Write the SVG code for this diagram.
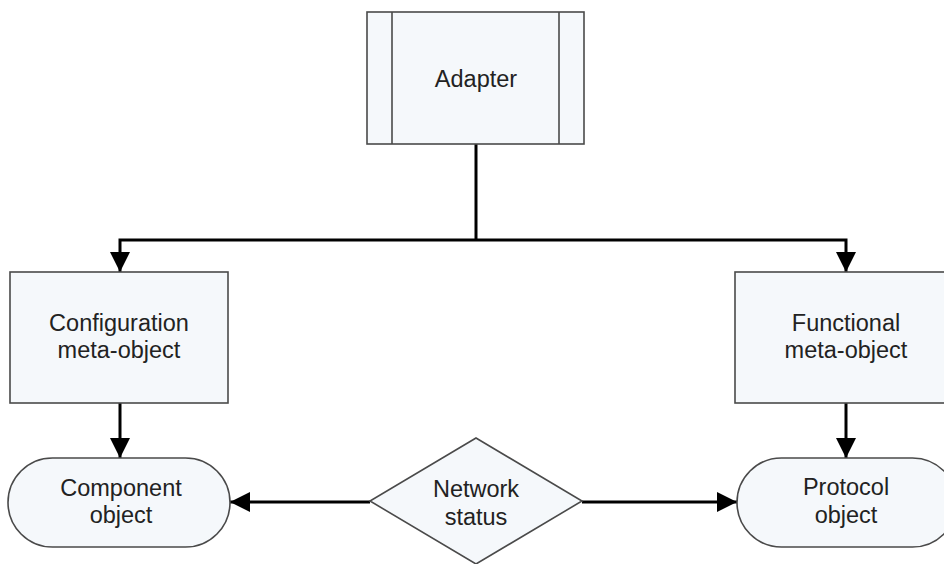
<svg xmlns="http://www.w3.org/2000/svg" width="944" height="564" viewBox="0 0 944 564">
  <style>
    .shape { fill: #f5f8fb; stroke: #4a4a4a; stroke-width: 1.6; }
    .conn { fill: none; stroke: #000; stroke-width: 3; }
    .label { font-family: "Liberation Sans", Arial, sans-serif; font-size: 23.5px; fill: #222; text-anchor: middle; }
  </style>
  <defs>
    <marker id="arrow" markerUnits="userSpaceOnUse" markerWidth="20" markerHeight="20" viewBox="0 0 20 20" refX="20" refY="10" orient="auto">
      <path d="M0,0 L20,10 L0,20 Z" fill="#000"/>
    </marker>
  </defs>
  <rect width="944" height="564" fill="#fff"/>

  <g id="connectors">
    <line class="conn" x1="476" y1="144" x2="476" y2="240"/>
    <polyline class="conn" points="476,240 120,240 120,272" marker-end="url(#arrow)"/>
    <polyline class="conn" points="476,240 846,240 846,272" marker-end="url(#arrow)"/>
    <line class="conn" x1="120" y1="403" x2="120" y2="458" marker-end="url(#arrow)"/>
    <line class="conn" x1="846" y1="403" x2="846" y2="458" marker-end="url(#arrow)"/>
    <line class="conn" x1="370" y1="502" x2="230" y2="502" marker-end="url(#arrow)"/>
    <line class="conn" x1="582" y1="502" x2="737" y2="502" marker-end="url(#arrow)"/>
  </g>

  <g id="adapter">
    <rect class="shape" x="367" y="12" width="217" height="132"/>
    <line class="shape" x1="392" y1="12" x2="392" y2="144"/>
    <line class="shape" x1="559" y1="12" x2="559" y2="144"/>
    <text class="label" x="476" y="87">Adapter</text>
  </g>

  <g id="config">
    <rect class="shape" x="10" y="272" width="218" height="131"/>
    <text class="label" x="119" y="331">Configuration</text>
    <text class="label" x="119" y="358">meta-object</text>
  </g>

  <g id="functional">
    <rect class="shape" x="735" y="272" width="220" height="131"/>
    <text class="label" x="846" y="331">Functional</text>
    <text class="label" x="846" y="358">meta-object</text>
  </g>

  <g id="component">
    <rect class="shape" x="8" y="458" width="222" height="89" rx="44.5" ry="44.5"/>
    <text class="label" x="121" y="496">Component</text>
    <text class="label" x="121" y="523">object</text>
  </g>

  <g id="network">
    <polygon class="shape" points="476,438 582,501 476,564 370,501"/>
    <text class="label" x="476" y="497">Network</text>
    <text class="label" x="476" y="525">status</text>
  </g>

  <g id="protocol">
    <rect class="shape" x="737" y="458" width="220" height="89" rx="44.5" ry="44.5"/>
    <text class="label" x="846" y="495">Protocol</text>
    <text class="label" x="846" y="523">object</text>
  </g>
</svg>
